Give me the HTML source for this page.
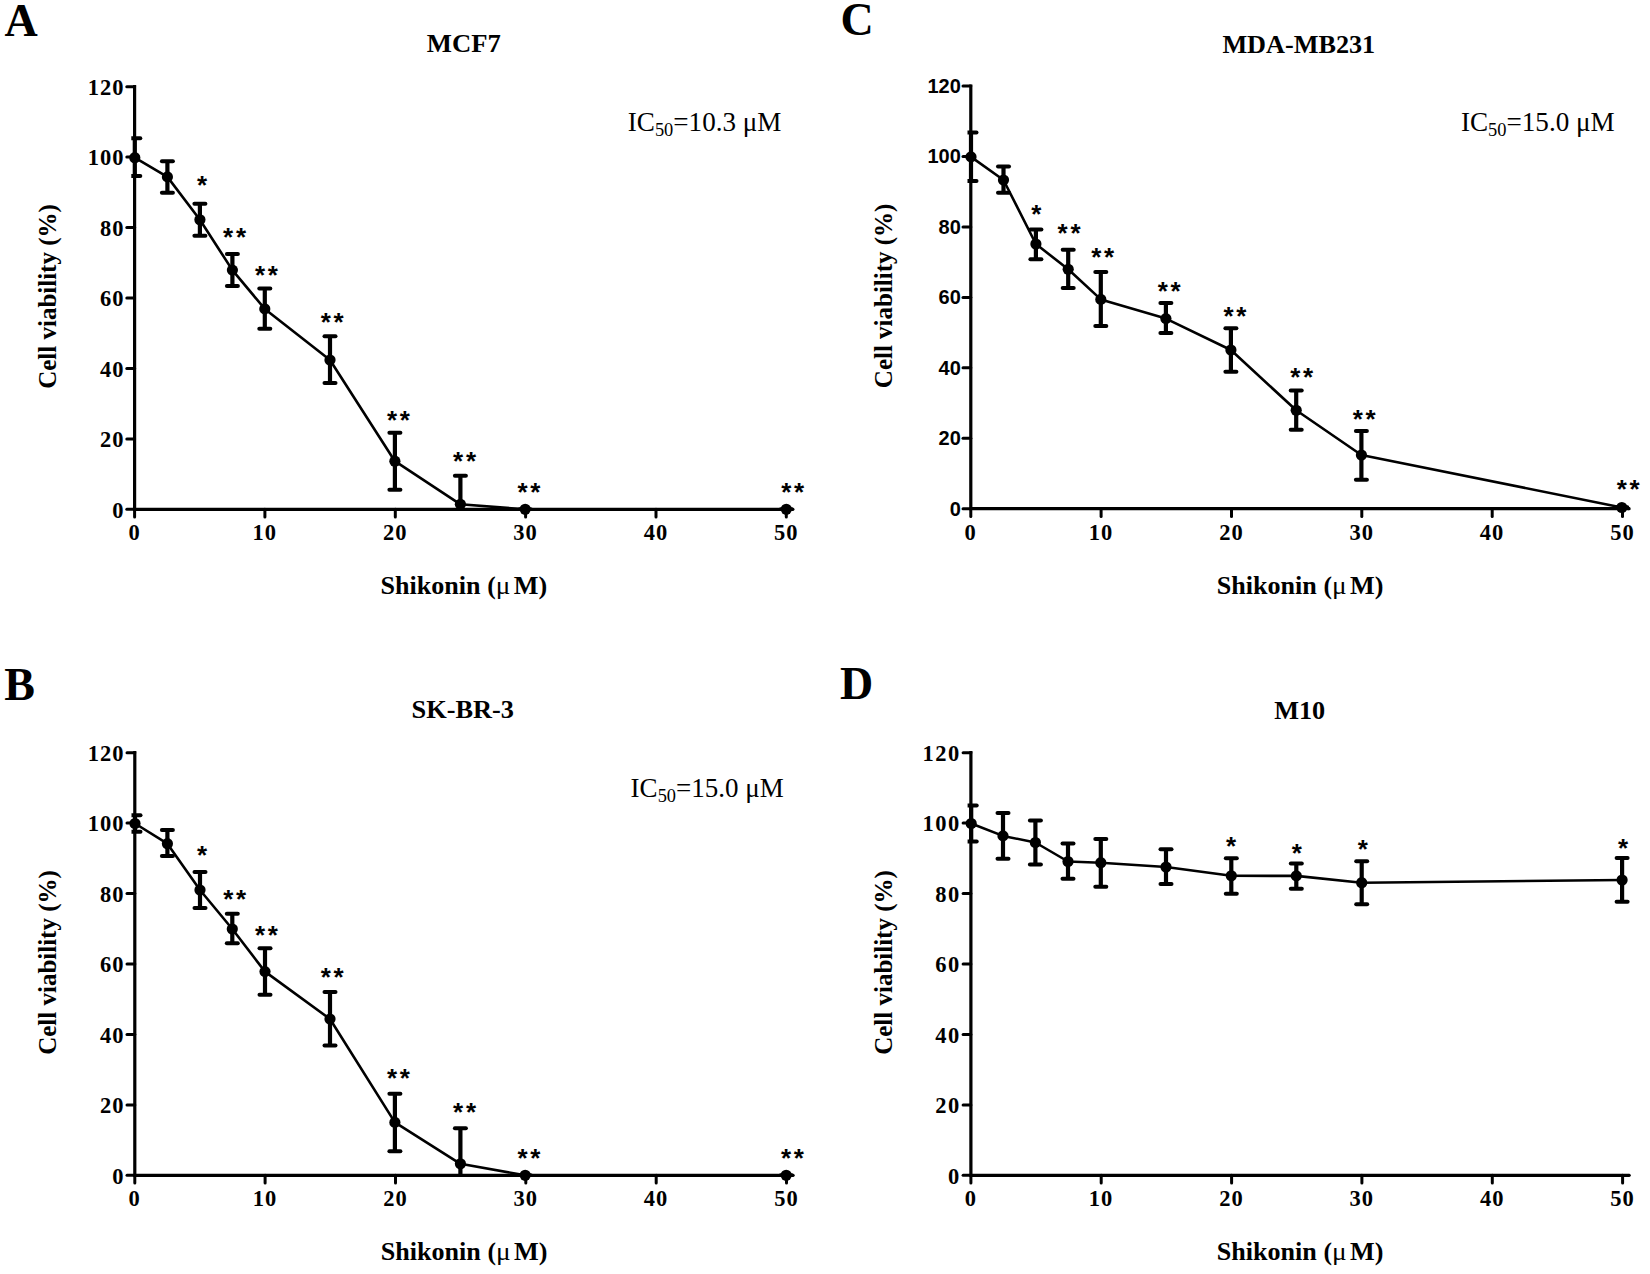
<!DOCTYPE html>
<html lang="en">
<head>
<meta charset="utf-8">
<title>Shikonin cell viability</title>
<style>
html,body{margin:0;padding:0;background:#fff;}
body{width:1650px;height:1274px;overflow:hidden;}
svg{display:block;}
text{font-family:"Liberation Serif", serif;fill:#000;}
.letter{font-size:46px;font-weight:bold;}
.title{font-size:26px;font-weight:bold;}
.ytl{font-size:22.5px;font-weight:bold;text-anchor:end;}
.ytl-sans{font-family:"Liberation Sans", sans-serif;font-size:20px;font-weight:bold;text-anchor:end;}
.xtl{font-size:22.5px;font-weight:bold;text-anchor:middle;}
.axl{font-size:25.5px;font-weight:bold;}
.mu{font-weight:normal;}
.ic{font-size:26.5px;}
.sub{font-size:18px;}
.star{font-family:"Liberation Sans", sans-serif;font-size:26px;font-weight:bold;}
.ax{fill:none;stroke:#000;stroke-width:3.2;stroke-linecap:butt;stroke-linejoin:miter;}
.tk{fill:none;stroke:#000;stroke-width:3.0;stroke-linecap:round;}
.eb{fill:none;stroke:#000;stroke-width:4.2;}
.cap{fill:none;stroke:#000;stroke-width:4.0;stroke-linecap:round;}
.ln{fill:none;stroke:#000;stroke-width:2.6;stroke-linejoin:round;}
</style>
</head>
<body>
<svg width="1650" height="1274" viewBox="0 0 1650 1274">
<rect width="1650" height="1274" fill="#fff"/>
<g id="panel-A">
<text x="4.4" y="35.8" class="letter">A</text>
<text x="426.8" y="52.4" class="title" textLength="74" lengthAdjust="spacingAndGlyphs">MCF7</text>
<path class="ax" d="M134.6 85.1 V509.3 H792.9"/>
<circle cx="792.9" cy="509.3" r="1.6"/>
<path class="tk" d="M126.8 509.3 H134.6"/>
<text x="124.4" y="517.5" class="ytl" letter-spacing="1.0">0</text>
<path class="tk" d="M126.8 438.9 H134.6"/>
<text x="124.4" y="447.1" class="ytl" letter-spacing="1.0">20</text>
<path class="tk" d="M126.8 368.4 H134.6"/>
<text x="124.4" y="376.6" class="ytl" letter-spacing="1.0">40</text>
<path class="tk" d="M126.8 298.0 H134.6"/>
<text x="124.4" y="306.2" class="ytl" letter-spacing="1.0">60</text>
<path class="tk" d="M126.8 227.5 H134.6"/>
<text x="124.4" y="235.7" class="ytl" letter-spacing="1.0">80</text>
<path class="tk" d="M126.8 157.1 H134.6"/>
<text x="124.4" y="165.3" class="ytl" letter-spacing="1.0">100</text>
<path class="tk" d="M126.8 86.7 H134.6"/>
<text x="124.4" y="94.9" class="ytl" letter-spacing="1.0">120</text>
<path class="tk" d="M134.6 509.3 V517.1"/>
<text x="134.5" y="540.2" class="xtl" letter-spacing="1">0</text>
<path class="tk" d="M264.9 509.3 V517.1"/>
<text x="264.8" y="540.2" class="xtl" letter-spacing="1">10</text>
<path class="tk" d="M395.3 509.3 V517.1"/>
<text x="395.2" y="540.2" class="xtl" letter-spacing="1">20</text>
<path class="tk" d="M525.6 509.3 V517.1"/>
<text x="525.5" y="540.2" class="xtl" letter-spacing="1">30</text>
<path class="tk" d="M656.0 509.3 V517.1"/>
<text x="655.9" y="540.2" class="xtl" letter-spacing="1">40</text>
<path class="tk" d="M786.3 509.3 V517.1"/>
<text x="786.2" y="540.2" class="xtl" letter-spacing="1">50</text>
<text y="594.1" class="axl"><tspan x="380.5" textLength="100" lengthAdjust="spacingAndGlyphs">Shikonin</tspan><tspan x="487.3">(</tspan><tspan x="495.8" class="mu" textLength="14.6" lengthAdjust="spacingAndGlyphs">μ</tspan><tspan x="513.8" textLength="33.4" lengthAdjust="spacingAndGlyphs">M)</tspan></text>
<text transform="translate(56.0 296.5) rotate(-90)" class="axl" text-anchor="middle" textLength="184.5" lengthAdjust="spacingAndGlyphs">Cell viability (%)</text>
<text x="627.8" y="130.9" class="ic" textLength="153.6" lengthAdjust="spacingAndGlyphs">IC<tspan class="sub" dy="5.2">50</tspan><tspan dy="-5.2">=10.3 μM</tspan></text>
<clipPath id="clip-A"><rect x="131.3" y="56.7" width="691.7" height="453.9"/></clipPath>
<g clip-path="url(#clip-A)">
<path class="eb" d="M134.8 138.0 V176.4"/>
<path class="cap" d="M129.3 138.3 H140.3"/>
<path class="cap" d="M129.3 176.1 H140.3"/>
<path class="eb" d="M167.4 161.0 V193.0"/>
<path class="cap" d="M161.9 161.3 H172.9"/>
<path class="cap" d="M161.9 192.7 H172.9"/>
<path class="eb" d="M199.9 203.4 V236.0"/>
<path class="cap" d="M194.4 203.7 H205.4"/>
<path class="cap" d="M194.4 235.7 H205.4"/>
<path class="eb" d="M232.4 253.7 V286.2"/>
<path class="cap" d="M226.9 254.0 H237.9"/>
<path class="cap" d="M226.9 285.9 H237.9"/>
<path class="eb" d="M264.8 288.2 V329.1"/>
<path class="cap" d="M259.3 288.5 H270.3"/>
<path class="cap" d="M259.3 328.8 H270.3"/>
<path class="eb" d="M330.0 335.9 V383.3"/>
<path class="cap" d="M324.5 336.2 H335.5"/>
<path class="cap" d="M324.5 383.0 H335.5"/>
<path class="eb" d="M394.9 432.5 V490.1"/>
<path class="cap" d="M389.4 432.8 H400.4"/>
<path class="cap" d="M389.4 489.8 H400.4"/>
<path class="eb" d="M460.4 475.5 V533.0"/>
<path class="cap" d="M454.9 475.8 H465.9"/>
<path class="cap" d="M454.9 532.7 H465.9"/>
<path class="cap" d="M519.7 509.3 H530.7"/>
<path class="cap" d="M780.8 509.3 H791.8"/>
</g>
<path class="ln" d="M134.8 157.7 L167.4 176.9 L199.9 219.8 L232.4 270.1 L264.8 308.9 L330.0 360.0 L394.9 461.2 L460.4 504.3 L525.2 509.3 L786.3 509.3"/>
<circle cx="134.8" cy="157.7" r="5.6"/>
<circle cx="167.4" cy="176.9" r="5.6"/>
<circle cx="199.9" cy="219.8" r="5.6"/>
<circle cx="232.4" cy="270.1" r="5.6"/>
<circle cx="264.8" cy="308.9" r="5.6"/>
<circle cx="330.0" cy="360.0" r="5.6"/>
<circle cx="394.9" cy="461.2" r="5.6"/>
<circle cx="460.4" cy="504.3" r="5.6"/>
<circle cx="525.2" cy="509.3" r="5.6"/>
<circle cx="786.3" cy="509.3" r="5.6"/>
<text x="197.1" y="193.5" class="star">*</text>
<text x="223.1" y="246.1" class="star" letter-spacing="2.7">**</text>
<text x="254.9" y="284.0" class="star" letter-spacing="2.7">**</text>
<text x="320.8" y="331.2" class="star" letter-spacing="2.7">**</text>
<text x="386.9" y="428.6" class="star" letter-spacing="2.7">**</text>
<text x="453.1" y="470.2" class="star" letter-spacing="2.7">**</text>
<text x="517.4" y="501.0" class="star" letter-spacing="2.7">**</text>
<text x="781.2" y="500.8" class="star" letter-spacing="2.7">**</text>
</g>
<g id="panel-C">
<text x="840.4" y="35.3" class="letter">C</text>
<text x="1222.4" y="52.8" class="title" textLength="152.8" lengthAdjust="spacingAndGlyphs">MDA-MB231</text>
<path class="ax" d="M970.8 84.5 V508.7 H1629.1"/>
<circle cx="1629.1" cy="508.7" r="1.6"/>
<path class="tk" d="M963.0 508.7 H970.8"/>
<text x="960.8" y="515.6" class="ytl-sans">0</text>
<path class="tk" d="M963.0 438.3 H970.8"/>
<text x="960.8" y="445.2" class="ytl-sans">20</text>
<path class="tk" d="M963.0 367.8 H970.8"/>
<text x="960.8" y="374.7" class="ytl-sans">40</text>
<path class="tk" d="M963.0 297.4 H970.8"/>
<text x="960.8" y="304.3" class="ytl-sans">60</text>
<path class="tk" d="M963.0 226.9 H970.8"/>
<text x="960.8" y="233.8" class="ytl-sans">80</text>
<path class="tk" d="M963.0 156.5 H970.8"/>
<text x="960.8" y="163.4" class="ytl-sans">100</text>
<path class="tk" d="M963.0 86.1 H970.8"/>
<text x="960.8" y="93.0" class="ytl-sans">120</text>
<path class="tk" d="M970.8 508.7 V516.5"/>
<text x="970.7" y="539.6" class="xtl" letter-spacing="1">0</text>
<path class="tk" d="M1101.1 508.7 V516.5"/>
<text x="1101.0" y="539.6" class="xtl" letter-spacing="1">10</text>
<path class="tk" d="M1231.5 508.7 V516.5"/>
<text x="1231.4" y="539.6" class="xtl" letter-spacing="1">20</text>
<path class="tk" d="M1361.8 508.7 V516.5"/>
<text x="1361.7" y="539.6" class="xtl" letter-spacing="1">30</text>
<path class="tk" d="M1492.2 508.7 V516.5"/>
<text x="1492.1" y="539.6" class="xtl" letter-spacing="1">40</text>
<path class="tk" d="M1622.5 508.7 V516.5"/>
<text x="1622.4" y="539.6" class="xtl" letter-spacing="1">50</text>
<text y="593.5" class="axl"><tspan x="1216.7" textLength="100" lengthAdjust="spacingAndGlyphs">Shikonin</tspan><tspan x="1323.5">(</tspan><tspan x="1332.0" class="mu" textLength="14.6" lengthAdjust="spacingAndGlyphs">μ</tspan><tspan x="1350.0" textLength="33.4" lengthAdjust="spacingAndGlyphs">M)</tspan></text>
<text transform="translate(892.2 295.9) rotate(-90)" class="axl" text-anchor="middle" textLength="184.5" lengthAdjust="spacingAndGlyphs">Cell viability (%)</text>
<text x="1460.9" y="131.0" class="ic" textLength="153.8" lengthAdjust="spacingAndGlyphs">IC<tspan class="sub" dy="5.2">50</tspan><tspan dy="-5.2">=15.0 μM</tspan></text>
<clipPath id="clip-C"><rect x="967.5" y="56.1" width="691.7" height="453.9"/></clipPath>
<g clip-path="url(#clip-C)">
<path class="eb" d="M971.0 132.1 V181.3"/>
<path class="cap" d="M965.5 132.4 H976.5"/>
<path class="cap" d="M965.5 181.0 H976.5"/>
<path class="eb" d="M1003.5 166.2 V193.0"/>
<path class="cap" d="M998.0 166.5 H1009.0"/>
<path class="cap" d="M998.0 192.7 H1009.0"/>
<path class="eb" d="M1035.9 229.2 V259.6"/>
<path class="cap" d="M1030.4 229.5 H1041.4"/>
<path class="cap" d="M1030.4 259.3 H1041.4"/>
<path class="eb" d="M1068.2 249.4 V288.3"/>
<path class="cap" d="M1062.7 249.7 H1073.7"/>
<path class="cap" d="M1062.7 288.0 H1073.7"/>
<path class="eb" d="M1100.8 271.6 V326.2"/>
<path class="cap" d="M1095.3 271.9 H1106.3"/>
<path class="cap" d="M1095.3 325.9 H1106.3"/>
<path class="eb" d="M1165.9 302.8 V333.2"/>
<path class="cap" d="M1160.4 303.1 H1171.4"/>
<path class="cap" d="M1160.4 332.9 H1171.4"/>
<path class="eb" d="M1230.9 327.9 V372.1"/>
<path class="cap" d="M1225.4 328.2 H1236.4"/>
<path class="cap" d="M1225.4 371.8 H1236.4"/>
<path class="eb" d="M1296.2 390.2 V430.1"/>
<path class="cap" d="M1290.7 390.5 H1301.7"/>
<path class="cap" d="M1290.7 429.8 H1301.7"/>
<path class="eb" d="M1361.4 430.7 V480.0"/>
<path class="cap" d="M1355.9 431.0 H1366.9"/>
<path class="cap" d="M1355.9 479.7 H1366.9"/>
<path class="eb" d="M1621.8 507.5 V507.5"/>
<path class="cap" d="M1616.3 507.8 H1627.3"/>
<path class="cap" d="M1616.3 507.2 H1627.3"/>
</g>
<path class="ln" d="M971.0 156.9 L1003.5 180.0 L1035.9 244.0 L1068.2 269.3 L1100.8 299.4 L1165.9 318.6 L1230.9 350.0 L1296.2 410.3 L1361.4 455.0 L1621.8 507.5"/>
<circle cx="971.0" cy="156.9" r="5.6"/>
<circle cx="1003.5" cy="180.0" r="5.6"/>
<circle cx="1035.9" cy="244.0" r="5.6"/>
<circle cx="1068.2" cy="269.3" r="5.6"/>
<circle cx="1100.8" cy="299.4" r="5.6"/>
<circle cx="1165.9" cy="318.6" r="5.6"/>
<circle cx="1230.9" cy="350.0" r="5.6"/>
<circle cx="1296.2" cy="410.3" r="5.6"/>
<circle cx="1361.4" cy="455.0" r="5.6"/>
<circle cx="1621.8" cy="507.5" r="5.6"/>
<text x="1031.3" y="223.2" class="star">*</text>
<text x="1057.6" y="242.0" class="star" letter-spacing="2.7">**</text>
<text x="1091.2" y="266.3" class="star" letter-spacing="2.7">**</text>
<text x="1157.7" y="300.3" class="star" letter-spacing="2.7">**</text>
<text x="1223.4" y="324.5" class="star" letter-spacing="2.7">**</text>
<text x="1290.2" y="385.7" class="star" letter-spacing="2.7">**</text>
<text x="1352.8" y="427.6" class="star" letter-spacing="2.7">**</text>
<text x="1616.7" y="498.1" class="star" letter-spacing="2.7">**</text>
</g>
<g id="panel-B">
<text x="4.3" y="700" class="letter">B</text>
<text x="411.6" y="718.4" class="title" textLength="102.4" lengthAdjust="spacingAndGlyphs">SK-BR-3</text>
<path class="ax" d="M134.8 751.1 V1175.3 H793.1"/>
<circle cx="793.1" cy="1175.3" r="1.6"/>
<path class="tk" d="M127.0 1175.3 H134.8"/>
<text x="124.6" y="1183.5" class="ytl" letter-spacing="1.0">0</text>
<path class="tk" d="M127.0 1104.9 H134.8"/>
<text x="124.6" y="1113.1" class="ytl" letter-spacing="1.0">20</text>
<path class="tk" d="M127.0 1034.4 H134.8"/>
<text x="124.6" y="1042.6" class="ytl" letter-spacing="1.0">40</text>
<path class="tk" d="M127.0 964.0 H134.8"/>
<text x="124.6" y="972.2" class="ytl" letter-spacing="1.0">60</text>
<path class="tk" d="M127.0 893.5 H134.8"/>
<text x="124.6" y="901.7" class="ytl" letter-spacing="1.0">80</text>
<path class="tk" d="M127.0 823.1 H134.8"/>
<text x="124.6" y="831.3" class="ytl" letter-spacing="1.0">100</text>
<path class="tk" d="M127.0 752.7 H134.8"/>
<text x="124.6" y="760.9" class="ytl" letter-spacing="1.0">120</text>
<path class="tk" d="M134.8 1175.3 V1183.1"/>
<text x="134.7" y="1206.2" class="xtl" letter-spacing="1">0</text>
<path class="tk" d="M265.1 1175.3 V1183.1"/>
<text x="265.0" y="1206.2" class="xtl" letter-spacing="1">10</text>
<path class="tk" d="M395.5 1175.3 V1183.1"/>
<text x="395.4" y="1206.2" class="xtl" letter-spacing="1">20</text>
<path class="tk" d="M525.8 1175.3 V1183.1"/>
<text x="525.7" y="1206.2" class="xtl" letter-spacing="1">30</text>
<path class="tk" d="M656.2 1175.3 V1183.1"/>
<text x="656.1" y="1206.2" class="xtl" letter-spacing="1">40</text>
<path class="tk" d="M786.5 1175.3 V1183.1"/>
<text x="786.4" y="1206.2" class="xtl" letter-spacing="1">50</text>
<text y="1260.1" class="axl"><tspan x="380.7" textLength="100" lengthAdjust="spacingAndGlyphs">Shikonin</tspan><tspan x="487.5">(</tspan><tspan x="496.0" class="mu" textLength="14.6" lengthAdjust="spacingAndGlyphs">μ</tspan><tspan x="514.0" textLength="33.4" lengthAdjust="spacingAndGlyphs">M)</tspan></text>
<text transform="translate(56.2 962.5) rotate(-90)" class="axl" text-anchor="middle" textLength="184.5" lengthAdjust="spacingAndGlyphs">Cell viability (%)</text>
<text x="630.6" y="797.0" class="ic" textLength="153.2" lengthAdjust="spacingAndGlyphs">IC<tspan class="sub" dy="5.2">50</tspan><tspan dy="-5.2">=15.0 μM</tspan></text>
<clipPath id="clip-B"><rect x="131.5" y="722.7" width="691.7" height="453.9"/></clipPath>
<g clip-path="url(#clip-B)">
<path class="eb" d="M135.0 815.0 V832.0"/>
<path class="cap" d="M129.5 815.3 H140.5"/>
<path class="cap" d="M129.5 831.7 H140.5"/>
<path class="eb" d="M167.4 829.6 V856.4"/>
<path class="cap" d="M161.9 829.9 H172.9"/>
<path class="cap" d="M161.9 856.1 H172.9"/>
<path class="eb" d="M200.0 871.7 V908.2"/>
<path class="cap" d="M194.5 872.0 H205.5"/>
<path class="cap" d="M194.5 907.9 H205.5"/>
<path class="eb" d="M232.3 913.5 V943.6"/>
<path class="cap" d="M226.8 913.8 H237.8"/>
<path class="cap" d="M226.8 943.3 H237.8"/>
<path class="eb" d="M265.0 948.0 V995.0"/>
<path class="cap" d="M259.5 948.3 H270.5"/>
<path class="cap" d="M259.5 994.7 H270.5"/>
<path class="eb" d="M330.0 991.8 V1045.8"/>
<path class="cap" d="M324.5 992.1 H335.5"/>
<path class="cap" d="M324.5 1045.5 H335.5"/>
<path class="eb" d="M394.9 1093.5 V1151.6"/>
<path class="cap" d="M389.4 1093.8 H400.4"/>
<path class="cap" d="M389.4 1151.3 H400.4"/>
<path class="eb" d="M460.4 1128.0 V1200.0"/>
<path class="cap" d="M454.9 1128.3 H465.9"/>
<path class="cap" d="M454.9 1199.7 H465.9"/>
<path class="cap" d="M519.7 1175.3 H530.7"/>
<path class="cap" d="M780.7 1175.3 H791.7"/>
</g>
<path class="ln" d="M135.0 823.5 L167.4 843.7 L200.0 890.0 L232.3 929.0 L265.0 971.6 L330.0 1019.0 L394.9 1122.4 L460.4 1163.8 L525.2 1175.3 L786.2 1175.3"/>
<circle cx="135.0" cy="823.5" r="5.6"/>
<circle cx="167.4" cy="843.7" r="5.6"/>
<circle cx="200.0" cy="890.0" r="5.6"/>
<circle cx="232.3" cy="929.0" r="5.6"/>
<circle cx="265.0" cy="971.6" r="5.6"/>
<circle cx="330.0" cy="1019.0" r="5.6"/>
<circle cx="394.9" cy="1122.4" r="5.6"/>
<circle cx="460.4" cy="1163.8" r="5.6"/>
<circle cx="525.2" cy="1175.3" r="5.6"/>
<circle cx="786.2" cy="1175.3" r="5.6"/>
<text x="196.9" y="864.2" class="star">*</text>
<text x="223.2" y="907.5" class="star" letter-spacing="2.7">**</text>
<text x="254.9" y="944.0" class="star" letter-spacing="2.7">**</text>
<text x="320.8" y="985.5" class="star" letter-spacing="2.7">**</text>
<text x="386.9" y="1087.2" class="star" letter-spacing="2.7">**</text>
<text x="453.1" y="1121.1" class="star" letter-spacing="2.7">**</text>
<text x="517.4" y="1167.4" class="star" letter-spacing="2.7">**</text>
<text x="781.0" y="1167.4" class="star" letter-spacing="2.7">**</text>
</g>
<g id="panel-D">
<text x="839.9" y="699.4" class="letter">D</text>
<text x="1274.2" y="718.6" class="title" textLength="51" lengthAdjust="spacingAndGlyphs">M10</text>
<path class="ax" d="M970.9 751.1 V1175.3 H1629.2"/>
<circle cx="1629.2" cy="1175.3" r="1.6"/>
<path class="tk" d="M963.1 1175.3 H970.9"/>
<text x="960.7" y="1183.5" class="ytl" letter-spacing="1.5">0</text>
<path class="tk" d="M963.1 1104.9 H970.9"/>
<text x="960.7" y="1113.1" class="ytl" letter-spacing="1.5">20</text>
<path class="tk" d="M963.1 1034.4 H970.9"/>
<text x="960.7" y="1042.6" class="ytl" letter-spacing="1.5">40</text>
<path class="tk" d="M963.1 964.0 H970.9"/>
<text x="960.7" y="972.2" class="ytl" letter-spacing="1.5">60</text>
<path class="tk" d="M963.1 893.5 H970.9"/>
<text x="960.7" y="901.7" class="ytl" letter-spacing="1.5">80</text>
<path class="tk" d="M963.1 823.1 H970.9"/>
<text x="960.7" y="831.3" class="ytl" letter-spacing="1.5">100</text>
<path class="tk" d="M963.1 752.7 H970.9"/>
<text x="960.7" y="760.9" class="ytl" letter-spacing="1.5">120</text>
<path class="tk" d="M970.9 1175.3 V1183.1"/>
<text x="970.8" y="1206.2" class="xtl" letter-spacing="1">0</text>
<path class="tk" d="M1101.2 1175.3 V1183.1"/>
<text x="1101.1" y="1206.2" class="xtl" letter-spacing="1">10</text>
<path class="tk" d="M1231.6 1175.3 V1183.1"/>
<text x="1231.5" y="1206.2" class="xtl" letter-spacing="1">20</text>
<path class="tk" d="M1361.9 1175.3 V1183.1"/>
<text x="1361.8" y="1206.2" class="xtl" letter-spacing="1">30</text>
<path class="tk" d="M1492.3 1175.3 V1183.1"/>
<text x="1492.2" y="1206.2" class="xtl" letter-spacing="1">40</text>
<path class="tk" d="M1622.6 1175.3 V1183.1"/>
<text x="1622.5" y="1206.2" class="xtl" letter-spacing="1">50</text>
<text y="1260.1" class="axl"><tspan x="1216.8" textLength="100" lengthAdjust="spacingAndGlyphs">Shikonin</tspan><tspan x="1323.6">(</tspan><tspan x="1332.1" class="mu" textLength="14.6" lengthAdjust="spacingAndGlyphs">μ</tspan><tspan x="1350.1" textLength="33.4" lengthAdjust="spacingAndGlyphs">M)</tspan></text>
<text transform="translate(892.3 962.5) rotate(-90)" class="axl" text-anchor="middle" textLength="184.5" lengthAdjust="spacingAndGlyphs">Cell viability (%)</text>
<clipPath id="clip-D"><rect x="967.6" y="722.7" width="691.7" height="453.9"/></clipPath>
<g clip-path="url(#clip-D)">
<path class="eb" d="M971.2 805.3 V841.8"/>
<path class="cap" d="M965.7 805.6 H976.7"/>
<path class="cap" d="M965.7 841.5 H976.7"/>
<path class="eb" d="M1003.0 812.8 V859.0"/>
<path class="cap" d="M997.5 813.1 H1008.5"/>
<path class="cap" d="M997.5 858.7 H1008.5"/>
<path class="eb" d="M1035.4 820.1 V864.9"/>
<path class="cap" d="M1029.9 820.4 H1040.9"/>
<path class="cap" d="M1029.9 864.6 H1040.9"/>
<path class="eb" d="M1068.0 843.2 V879.0"/>
<path class="cap" d="M1062.5 843.5 H1073.5"/>
<path class="cap" d="M1062.5 878.7 H1073.5"/>
<path class="eb" d="M1100.8 838.8 V887.0"/>
<path class="cap" d="M1095.3 839.1 H1106.3"/>
<path class="cap" d="M1095.3 886.7 H1106.3"/>
<path class="eb" d="M1166.0 849.0 V884.3"/>
<path class="cap" d="M1160.5 849.3 H1171.5"/>
<path class="cap" d="M1160.5 884.0 H1171.5"/>
<path class="eb" d="M1231.3 858.0 V894.1"/>
<path class="cap" d="M1225.8 858.3 H1236.8"/>
<path class="cap" d="M1225.8 893.8 H1236.8"/>
<path class="eb" d="M1296.3 863.1 V889.0"/>
<path class="cap" d="M1290.8 863.4 H1301.8"/>
<path class="cap" d="M1290.8 888.7 H1301.8"/>
<path class="eb" d="M1361.7 860.9 V904.5"/>
<path class="cap" d="M1356.2 861.2 H1367.2"/>
<path class="cap" d="M1356.2 904.2 H1367.2"/>
<path class="eb" d="M1622.1 857.6 V902.1"/>
<path class="cap" d="M1616.6 857.9 H1627.6"/>
<path class="cap" d="M1616.6 901.8 H1627.6"/>
</g>
<path class="ln" d="M971.2 823.5 L1003.0 835.9 L1035.4 842.5 L1068.0 861.5 L1100.8 862.7 L1166.0 867.0 L1231.3 875.8 L1296.3 875.9 L1361.7 882.7 L1622.1 880.0"/>
<circle cx="971.2" cy="823.5" r="5.6"/>
<circle cx="1003.0" cy="835.9" r="5.6"/>
<circle cx="1035.4" cy="842.5" r="5.6"/>
<circle cx="1068.0" cy="861.5" r="5.6"/>
<circle cx="1100.8" cy="862.7" r="5.6"/>
<circle cx="1166.0" cy="867.0" r="5.6"/>
<circle cx="1231.3" cy="875.8" r="5.6"/>
<circle cx="1296.3" cy="875.9" r="5.6"/>
<circle cx="1361.7" cy="882.7" r="5.6"/>
<circle cx="1622.1" cy="880.0" r="5.6"/>
<text x="1225.9" y="855.1" class="star">*</text>
<text x="1291.7" y="862.0" class="star">*</text>
<text x="1357.7" y="857.9" class="star">*</text>
<text x="1617.9" y="856.5" class="star">*</text>
</g>
</svg>
</body>
</html>
